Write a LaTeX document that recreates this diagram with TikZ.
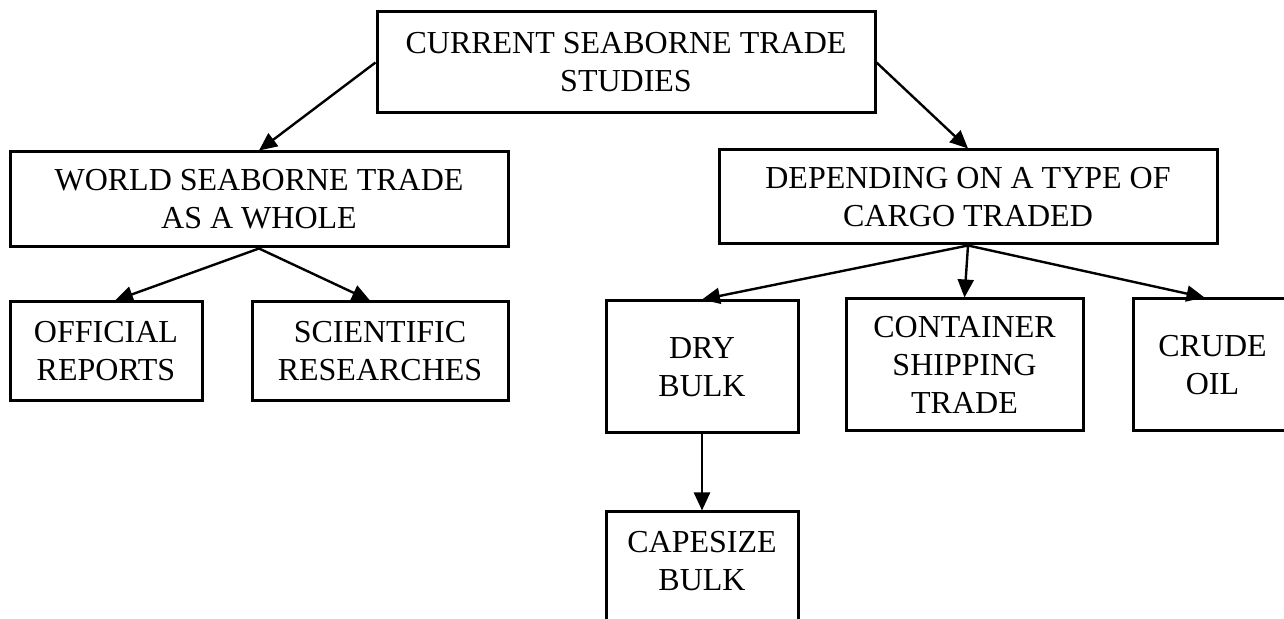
\documentclass[tikz,border=0pt]{standalone}
\usepackage{fontspec}
\setmainfont{Liberation Serif}
\usetikzlibrary{arrows.meta}
\tikzset{
  box/.style={draw, line width=1.5pt, align=center, inner sep=0pt,
    font=\fontsize{16pt}{19pt}\selectfont},
  link/.style={line width=1.2pt, -{Triangle[length=9pt,width=8pt]}}
}
\begin{document}
\begin{tikzpicture}[x=0.5pt,y=-0.5pt]
  \useasboundingbox (0,0) rectangle (1284,619);
  \clip (0,0) rectangle (1284,619);
  % boxes
  \node[box, minimum width=249pt, minimum height=50.5pt] (top) at (626,62.5) {CURRENT SEABORNE TRADE\\STUDIES};
  \node[box, minimum width=249pt, minimum height=47.5pt] (whole) at (259,199.5) {WORLD SEABORNE TRADE\\AS A WHOLE};
  \node[box, minimum width=249pt, minimum height=47pt] (cargo) at (968,197) {DEPENDING ON A TYPE OF\\CARGO TRADED};
  \node[box, minimum width=96pt, minimum height=49.5pt] (official) at (106,351.5) {OFFICIAL\\REPORTS};
  \node[box, minimum width=128pt, minimum height=49.5pt] (research) at (380,351.5) {SCIENTIFIC\\RESEARCHES};
  \node[box, minimum width=96pt, minimum height=66pt] (drybulk) at (702,367) {DRY\\BULK};
  \node[box, minimum width=118.5pt, minimum height=66pt] (container) at (964.5,365) {CONTAINER\\SHIPPING\\TRADE};
  \node[box, minimum width=79.5pt, minimum height=66pt] (crude) at (1212.5,365) {CRUDE\\OIL};
  \node[box, minimum width=96pt, minimum height=74pt] (capesize) at (702,586) {CAPESIZE\\BULK\\\strut};
  % arrows
  \draw[link] (top.west) -- (whole.north);
  \draw[link] (top.east) -- (cargo.north);
  \draw[link] (whole.south) -- ([xshift=4.5pt]official.north);
  \draw[link] (whole.south) -- ([xshift=-5pt]research.north);
  \draw[link] (cargo.south) -- (drybulk.north);
  \draw[link] (cargo.south) -- (container.north);
  \draw[link] (cargo.south) -- ([xshift=-4pt]crude.north);
  \draw[link] (drybulk.south) -- (capesize.north);
\end{tikzpicture}
\end{document}
